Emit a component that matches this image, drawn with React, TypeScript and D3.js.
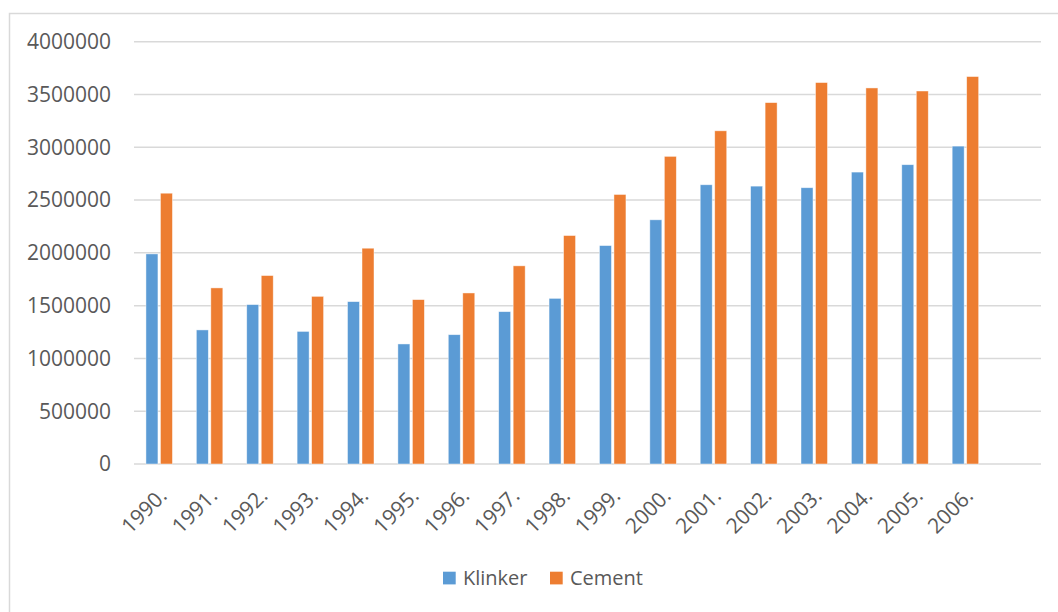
import React, {useEffect, useRef} from 'react'
import * as d3 from 'd3'

const years = ['1990.', '1991.', '1992.', '1993.', '1994.', '1995.', '1996.', '1997.', '1998.',
    '1999.', '2000.', '2001.', '2002.', '2003.', '2004.', '2005.', '2006.', '']
const klinker = [1990000, 1270000, 1510000, 1256000, 1538000, 1137000, 1225000, 1443000, 1569000,
    2069000, 2313000, 2645000, 2632000, 2617000, 2765000, 2835000, 3011000, null]
const cement = [2565000, 1668000, 1785000, 1588000, 2044000, 1557000, 1620000, 1877000, 2164000,
    2553000, 2914000, 3156000, 3423000, 3613000, 3562000, 3533000, 3670000, null]
const seriesNames = ['Klinker', 'Cement']
const colors = ['#5B9BD5', '#ED7D31']
const yTicks = [0, 500000, 1000000, 1500000, 2000000, 2500000, 3000000, 3500000, 4000000]

function App() {
    const ref = useRef(null)

    useEffect(() => {
        drawChart()
    }, [])

    function drawChart() {
        const width = 1058, height = 612
        const left = 134, right = 1041, top = 41.7, bottom = 464
        const font = "'Open Sans', sans-serif"

        d3.select(ref.current).selectAll('*').remove()

        const svg = d3.select(ref.current)
            .append('svg')
            .attr('width', width)
            .attr('height', height)
            .style('position', 'absolute')
            .style('left', 0)
            .style('top', 0)

        svg.append('rect')
            .attr('width', width)
            .attr('height', height)
            .attr('fill', '#fff')

        // chart frame
        svg.append('rect')
            .attr('x', 9.5)
            .attr('y', 13.5)
            .attr('width', 1100)
            .attr('height', 700)
            .attr('fill', 'none')
            .attr('stroke', '#d9d9d9')
            .attr('stroke-width', 1.5)

        const x = d3.scaleBand().domain(years.map((d, i) => String(i))).range([left, right])
        const x1 = d3.scaleBand().domain(seriesNames).range([-14.5, 14.5])
        const y = d3.scaleLinear().domain([0, 4000000]).range([bottom, top])

        // gridlines
        svg.append('g')
            .selectAll('line')
            .data(yTicks)
            .enter()
            .append('line')
            .attr('x1', left)
            .attr('x2', right)
            .attr('y1', d => y(d))
            .attr('y2', d => y(d))
            .attr('stroke', '#d9d9d9')
            .attr('stroke-width', 1.5)

        // y labels
        svg.append('g')
            .selectAll('text')
            .data(yTicks)
            .enter()
            .append('text')
            .attr('x', 111)
            .attr('y', d => y(d))
            .attr('dy', '0.35em')
            .attr('text-anchor', 'end')
            .style('font-family', font)
            .style('font-size', '21px')
            .attr('fill', '#595959')
            .text(d => d)

        const barW = 12
        const series = [klinker, cement]
        series.forEach((vals, s) => {
            svg.append('g')
                .selectAll('rect')
                .data(vals.map((v, i) => ({v, i})).filter(d => d.v != null))
                .enter()
                .append('rect')
                .attr('x', d => x(String(d.i)) + x.bandwidth() / 2 + x1(seriesNames[s]) + (x1.bandwidth() - barW) / 2)
                .attr('y', d => y(d.v))
                .attr('width', barW)
                .attr('height', d => y(0) - y(d.v))
                .attr('fill', colors[s])
                .attr('stroke', '#fff')
                .attr('stroke-opacity', 0.6)
                .attr('stroke-width', 0.75)
        })

        // x labels
        svg.append('g')
            .selectAll('text')
            .data(years)
            .enter()
            .append('text')
            .attr('transform', (d, i) =>
                'translate(' + (x(String(i)) + x.bandwidth() / 2 + 9) + ',' + 497 + ') rotate(-45)')
            .attr('text-anchor', 'end')
            .style('font-family', font)
            .style('font-size', '21px')
            .attr('fill', '#595959')
            .text(d => d)

        // legend
        const legendX = [443, 550]
        const legend = svg.append('g')
        seriesNames.forEach((name, s) => {
            legend.append('rect')
                .attr('x', legendX[s])
                .attr('y', 571.7)
                .attr('width', 12.7)
                .attr('height', 12.7)
                .attr('fill', colors[s])
            legend.append('text')
                .attr('x', legendX[s] + 20)
                .attr('y', 585)
                .style('font-family', font)
                .style('font-size', '20px')
                .attr('fill', '#595959')
                .text(name)
        })
    }

    return (
        <div>
            <div ref={ref}></div>
        </div>
    )
}

export default App
